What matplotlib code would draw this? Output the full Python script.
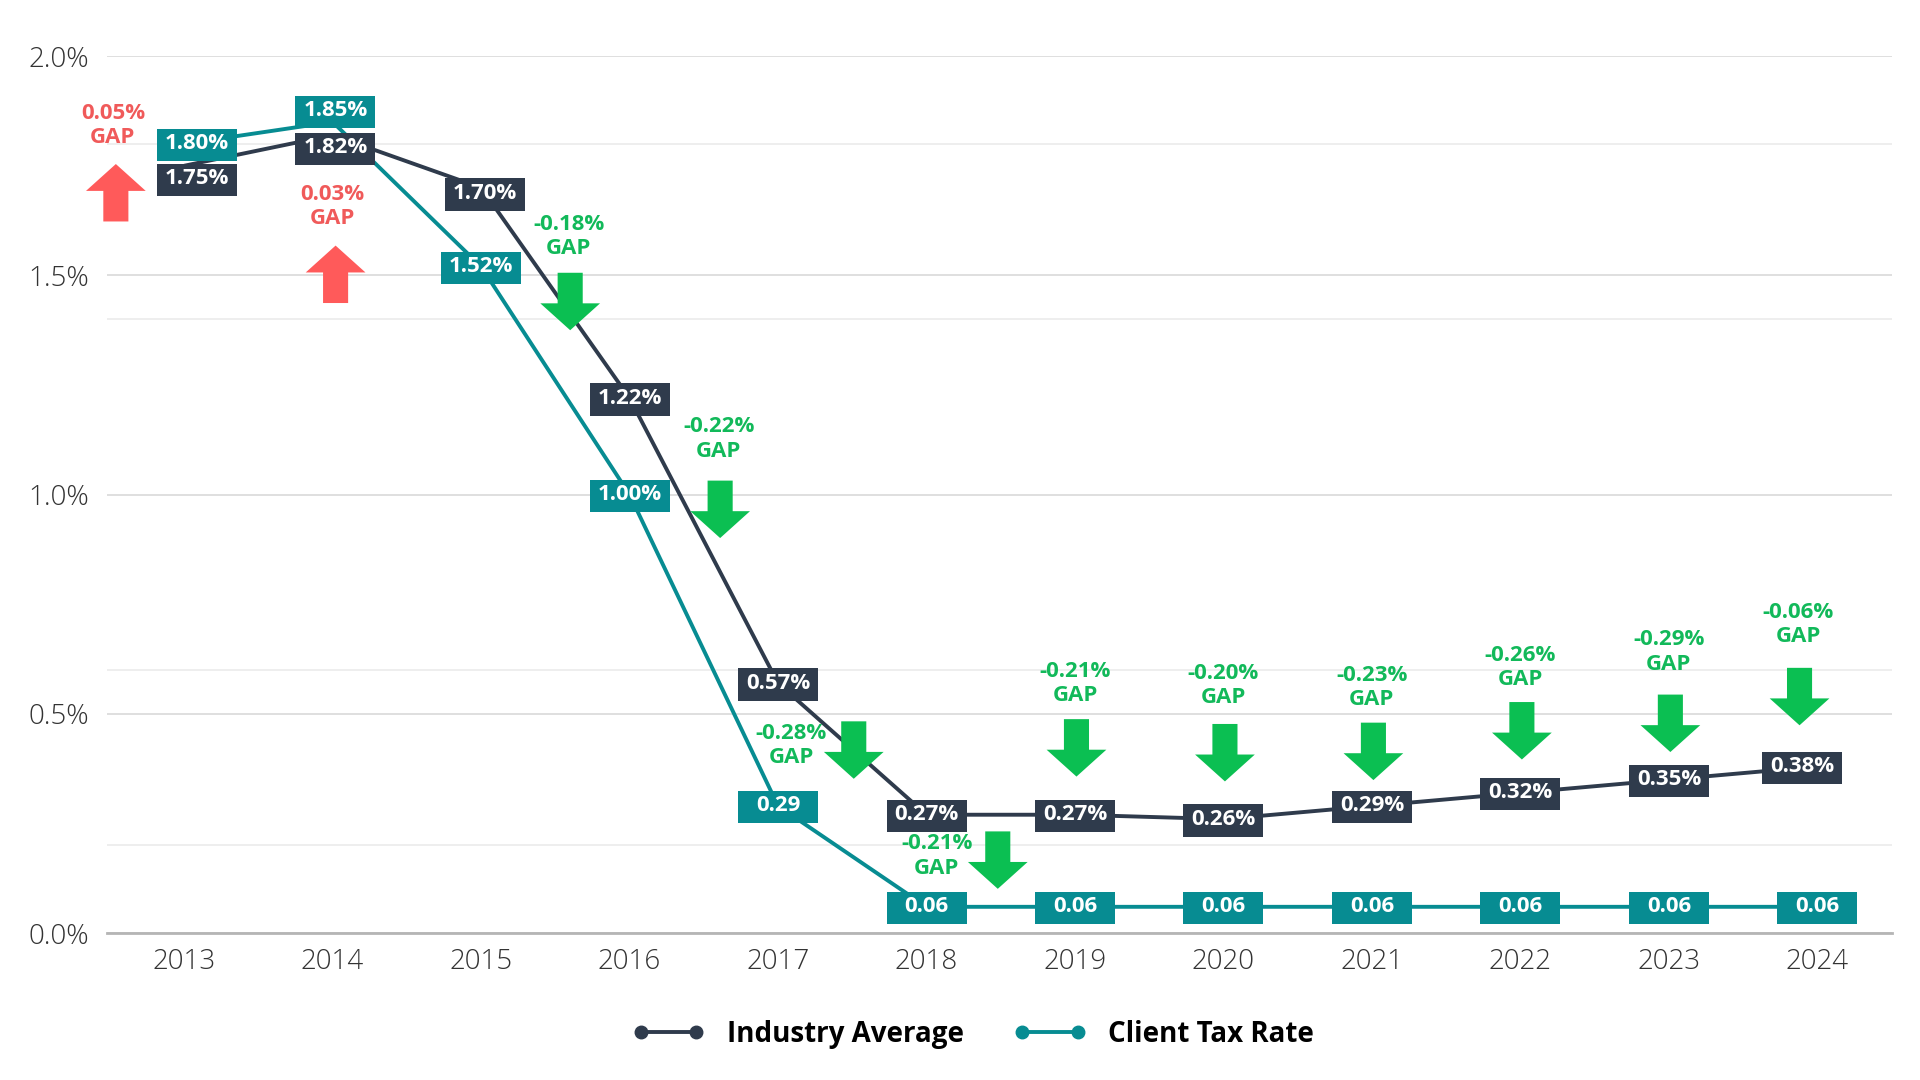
import matplotlib.pyplot as plt
from matplotlib.lines import Line2D
from matplotlib.path import Path

NAVY = "#2f3b4c"
TEAL = "#078c92"
RED_TXT = "#f05a5a"
RED_ARR = "#ff5a5a"
GREEN_TXT = "#12b95a"
GREEN_ARR = "#0bbf52"

plt.rcParams["font.family"] = ["Open Sans", "DejaVu Sans"]

# data
years = [2013, 2014, 2015, 2016, 2017, 2018, 2019, 2020, 2021, 2022, 2023, 2024]
industry = [1.75, 1.82, 1.70, 1.22, 0.57, 0.27, 0.27, 0.26, 0.29, 0.32, 0.35, 0.38]
client = [1.80, 1.85, 1.52, 1.00, 0.29, 0.06, 0.06, 0.06, 0.06, 0.06, 0.06, 0.06]
industry_labels = ["1.75%", "1.82%", "1.70%", "1.22%", "0.57%", "0.27%",
                   "0.27%", "0.26%", "0.29%", "0.32%", "0.35%", "0.38%"]
client_labels = ["1.80%", "1.85%", "1.52%", "1.00%", "0.29", "0.06",
                 "0.06", "0.06", "0.06", "0.06", "0.06", "0.06"]
gap_labels = ["0.05%", "0.03%", "-0.18%", "-0.22%", "-0.28%", "-0.21%",
              "-0.21%", "-0.20%", "-0.23%", "-0.26%", "-0.29%", "-0.06%"]

# where the gap notes sit (x in years, y in %)
gap_text_x = [2012.52, 2014.0, 2015.59, 2016.6, 2017.09, 2018.07,
              2019.0, 2020.0, 2021.0, 2022.0, 2023.0, 2023.87]
gap_text_y = [1.842, 1.658, 1.588, 1.127, 0.427, 0.176,
              0.569, 0.565, 0.561, 0.605, 0.641, 0.703]
gap_arrow_x = [2012.54, 2014.02, 2015.6, 2016.61, 2017.51, 2018.48,
               2019.01, 2020.01, 2021.01, 2022.01, 2023.01, 2023.88]
gap_arrow_base = [1.623, 1.437, 1.506, 1.032, 0.483, 0.232,
                  0.488, 0.477, 0.480, 0.527, 0.544, 0.605]
ARROW_LEN = 0.131

# label nudges in points (dx, dy)
industry_nudge = {0: (9, -9), 1: (2, -9), 2: (3, -4), 11: (-11, 0)}
client_nudge = {0: (9, 0), 1: (2, 8)}


def fixed_box(x0, y0, width, height, mutation_size):
    # same-size box for every value label
    w = 3.6 * mutation_size
    h = 1.45 * mutation_size
    cx = x0 + width / 2
    cy = y0 + height / 2 - 0.06 * mutation_size
    return Path([(cx - w / 2, cy - h / 2), (cx + w / 2, cy - h / 2),
                 (cx + w / 2, cy + h / 2), (cx - w / 2, cy + h / 2),
                 (cx - w / 2, cy - h / 2)], closed=True)


fig = plt.figure(figsize=(19.2, 10.8), dpi=100)
ax = fig.add_axes([0.0557, 0.136, 0.9295, 0.812])

ax.plot(years, client, color=TEAL, lw=2.8, zorder=2, solid_capstyle="butt")
ax.plot(years, industry, color=NAVY, lw=2.8, zorder=3, solid_capstyle="butt")

for i, (x, v, lab) in enumerate(zip(years, client, client_labels)):
    dx, dy = client_nudge.get(i, (0, 0))
    ax.annotate(lab, (x, v), xytext=(dx, dy), textcoords="offset points",
                ha="center", va="center", color="white", fontsize=16,
                fontweight="bold", zorder=5,
                bbox=dict(boxstyle=fixed_box, fc=TEAL, ec="none"))

for i, (x, v, lab) in enumerate(zip(years, industry, industry_labels)):
    dx, dy = industry_nudge.get(i, (0, 0))
    ax.annotate(lab, (x, v), xytext=(dx, dy), textcoords="offset points",
                ha="center", va="center", color="white", fontsize=16,
                fontweight="bold", zorder=6,
                bbox=dict(boxstyle=fixed_box, fc=NAVY, ec="none"))

for lab, tx, ty, axx, base in zip(gap_labels, gap_text_x, gap_text_y,
                                   gap_arrow_x, gap_arrow_base):
    down = lab.startswith("-")
    txt_col = GREEN_TXT if down else RED_TXT
    arr_col = GREEN_ARR if down else RED_ARR
    tip = base - ARROW_LEN if down else base + ARROW_LEN
    ax.text(tx, ty, lab + "\nGAP", ha="center", va="center", color=txt_col,
            fontsize=16, fontweight="bold", linespacing=1.2, zorder=7)
    ax.annotate("", xy=(axx, tip), xytext=(axx, base), zorder=7,
                arrowprops=dict(arrowstyle="simple,head_length=0.45,head_width=1.0,tail_width=0.42",
                                mutation_scale=43, fc=arr_col, ec="none", lw=0,
                                shrinkA=0, shrinkB=0))

ax.set_xlim(2012.48, 2024.5)
ax.set_ylim(0, 2.0)
ax.set_xticks(years)
ax.set_xticklabels([str(y) for y in years])
ax.set_yticks([0, 0.5, 1.0, 1.5, 2.0])
ax.set_yticklabels(["0.0%", "0.5%", "1.0%", "1.5%", "2.0%"])
ax.set_yticks([0.2, 0.6, 1.4, 1.8], minor=True)
ax.tick_params(axis="both", which="both", length=0, labelsize=20,
               labelcolor="#333333")
ax.tick_params(axis="x", pad=11)
ax.tick_params(axis="y", pad=13)
for t in ax.get_xticklabels() + ax.get_yticklabels():
    t.set_fontweight("light")

ax.grid(axis="y", which="major", color="#dcdcdc", lw=1.3)
ax.grid(axis="y", which="minor", color="#ededed", lw=1.3)
ax.set_axisbelow(True)
for side in ["top", "right", "left"]:
    ax.spines[side].set_visible(False)
ax.spines["bottom"].set_color("#b5b5b5")
ax.spines["bottom"].set_linewidth(2)

handles = [
    Line2D([], [], color=NAVY, lw=2.8, marker="o", markersize=9),
    Line2D([], [], color=TEAL, lw=2.8, marker="o", markersize=9),
]
fig.legend(handles, ["Industry Average", "Client Tax Rate"], loc="center",
           bbox_to_anchor=(0.507, 0.042), ncol=2, frameon=False, numpoints=2,
           handlelength=2.6, handletextpad=0.8, columnspacing=1.8,
           prop={"size": 20, "weight": "bold"})

fig.savefig("out.png", dpi=100, facecolor="white")
